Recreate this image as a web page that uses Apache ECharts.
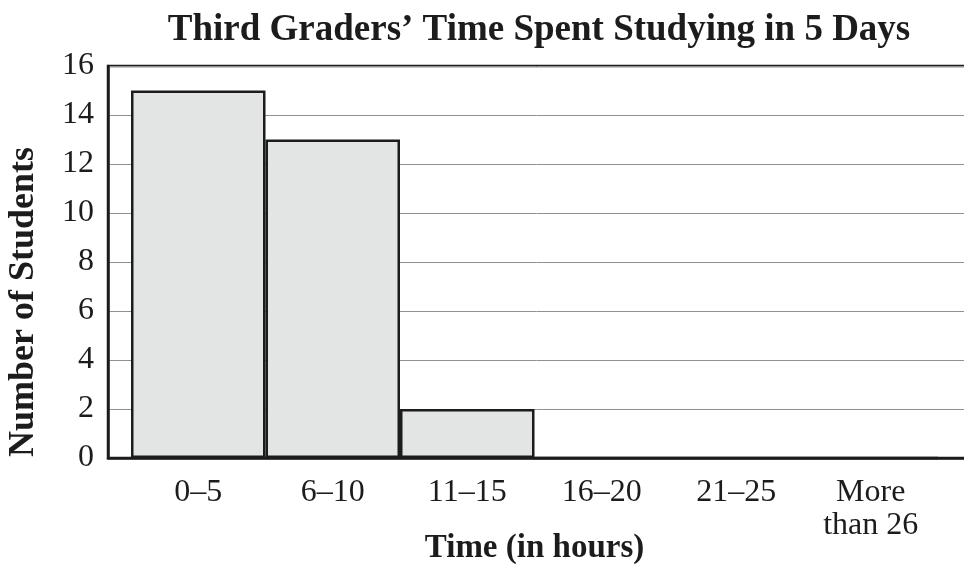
<!DOCTYPE html>
<html>
<head>
<meta charset="utf-8">
<script src="https://cdn.jsdelivr.net/npm/echarts@6/dist/echarts.min.js"></script>
<style>
  html, body { margin: 0; padding: 0; background: #fff; }
  #chart { width: 964px; height: 566px; }
</style>
</head>
<body>
<div id="chart"></div>
<script>
// data
var categories = ['0–5', '6–10', '11–15', '16–20', '21–25', 'More\nthan 26']
var students = [15, 13, 2, 0, 0, 0]
var yMin = 0
var yMax = 16
var yStep = 2

var serif = "'Liberation Serif', 'Times New Roman', serif"
var ink = '#1c1c1c'

var myChart = echarts.init(document.getElementById('chart'))
var option = {
  backgroundColor: '#fff',
  animation: false,
  title: {
    text: 'Third Graders’ Time Spent Studying in 5 Days',
    left: 534,
    top: 7,
    textAlign: 'center',
    textStyle: { fontFamily: serif, fontWeight: 'bold', fontSize: 37, color: ink }
  },
  graphic: [{
    type: 'text',
    x: 24,
    y: 302,
    rotation: Math.PI / 2,
    style: {
      text: 'Number of Students',
      fontFamily: serif,
      fontWeight: 'bold',
      fontSize: 36,
      fill: ink,
      align: 'center',
      verticalAlign: 'middle'
    }
  }],
  grid: [
    // frame: left axis, bottom axis, top border, gridlines
    { left: 108, right: -20, top: 66, bottom: 108, outerBoundsMode: 'none', containLabel: false,
      show: true, borderColor: ink, borderWidth: 2.5 },
    // bars
    { left: 131, right: 26, top: 66, bottom: 108, outerBoundsMode: 'none', containLabel: false }
  ],
  xAxis: [
    {
      gridIndex: 0, type: 'value', min: 0, max: 1,
      axisLine: { show: true, lineStyle: { color: ink, width: 2.5 } },
      axisTick: { show: false }, axisLabel: { show: false }, splitLine: { show: false }
    },
    {
      gridIndex: 1, type: 'category', data: categories,
      axisLine: { show: false }, axisTick: { show: false },
      axisLabel: { fontFamily: serif, fontSize: 32, color: ink, lineHeight: 33, margin: 18 },
      name: 'Time (in hours)', nameLocation: 'middle', nameGap: 74, nameMoveOverlap: false,
      nameTextStyle: { fontFamily: serif, fontWeight: 'bold', fontSize: 33, color: ink }
    }
  ],
  yAxis: [
    {
      gridIndex: 0, type: 'value', min: yMin, max: yMax, interval: yStep,
      axisLine: { show: true, lineStyle: { color: ink, width: 2.5 } },
      axisTick: { show: false },
      axisLabel: { fontFamily: serif, fontSize: 32, color: ink, margin: 14 },
      splitLine: { show: true, lineStyle: { color: '#919191', width: 1 } }
    },
    { gridIndex: 1, type: 'value', min: yMin, max: yMax, interval: yStep, show: false }
  ],
  series: [
    {
      type: 'bar',
      xAxisIndex: 1,
      yAxisIndex: 1,
      data: students,
      barWidth: '100%',
      barCategoryGap: 0,
      itemStyle: { color: '#e2e5e4', borderColor: ink, borderWidth: 2.5 }
    }
  ]
}
option && myChart.setOption(option)
window.addEventListener('resize', function () {
  myChart.resize()
})
</script>
</body>
</html>
